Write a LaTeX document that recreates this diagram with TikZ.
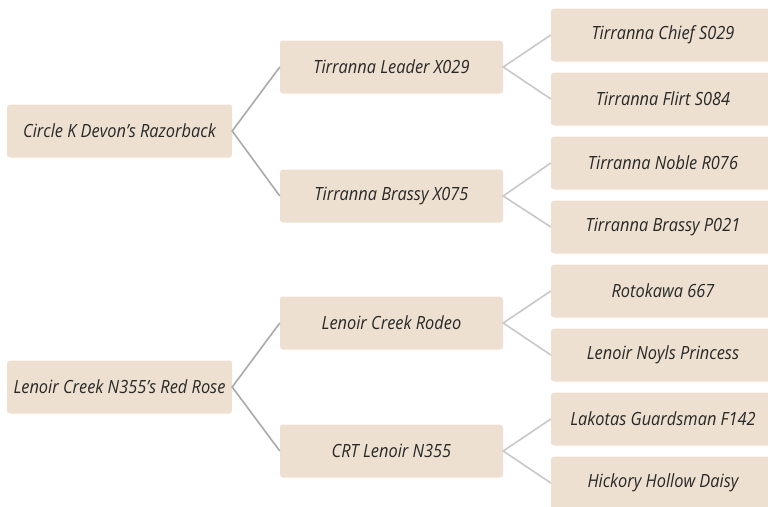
\documentclass[tikz,border=0pt]{standalone}
\usepackage{fontspec}
\setmainfont[FakeStretch=0.9]{Open Sans}
\definecolor{boxfill}{RGB}{237,224,208}
\definecolor{txt}{RGB}{40,40,40}
\definecolor{linkA}{RGB}{170,170,170}
\definecolor{linkB}{RGB}{200,200,200}
\begin{document}
\begin{tikzpicture}[x=1pt,y=-1pt,
  pbox/.style={fill=boxfill,draw=none,rounded corners=3pt,minimum height=53pt,
    inner sep=0pt,font=\fontsize{18.2}{20}\selectfont\itshape,text=txt},
  rootbox/.style={pbox,minimum width=225pt},
  midbox/.style={pbox,minimum width=223pt},
  leafbox/.style={pbox,minimum width=224pt},
  linka/.style={draw=linkA,line width=1.6pt},
  linkb/.style={draw=linkB,line width=1.6pt}]
\useasboundingbox (0,0) rectangle (768,506);
\clip (0,0) rectangle (768,506);
\node[rootbox] (r1) at (119.5,131) {Circle K Devon's Razorback};
\node[rootbox] (r2) at (119.5,387) {Lenoir Creek N355's Red Rose};
\node[midbox] (a1) at (391.5,67) {Tirranna Leader X029};
\node[midbox] (a2) at (391.5,196) {Tirranna Brassy X075};
\node[midbox] (b1) at (391.5,323) {Lenoir Creek Rodeo};
\node[midbox] (b2) at (391.5,451) {CRT Lenoir N355};
\node[leafbox] (l1) at (663,35) {Tirranna Chief S029};
\node[leafbox] (l2) at (663,99) {Tirranna Flirt S084};
\node[leafbox] (l3) at (663,163) {Tirranna Noble R076};
\node[leafbox] (l4) at (663,227) {Tirranna Brassy P021};
\node[leafbox] (l5) at (663,291) {Rotokawa 667};
\node[leafbox] (l6) at (663,355) {Lenoir Noyls Princess};
\node[leafbox] (l7) at (663,419) {Lakotas Guardsman F142};
\node[leafbox] (l8) at (663,483) {Hickory Hollow Daisy};
\draw[linka] (a1.west) -- (r1.east) -- (a2.west);
\draw[linka] (b1.west) -- (r2.east) -- (b2.west);
\draw[linkb] (l1.west) -- (a1.east) -- (l2.west);
\draw[linkb] (l3.west) -- (a2.east) -- (l4.west);
\draw[linkb] (l5.west) -- (b1.east) -- (l6.west);
\draw[linkb] (l7.west) -- (b2.east) -- (l8.west);
\end{tikzpicture}
\end{document}
